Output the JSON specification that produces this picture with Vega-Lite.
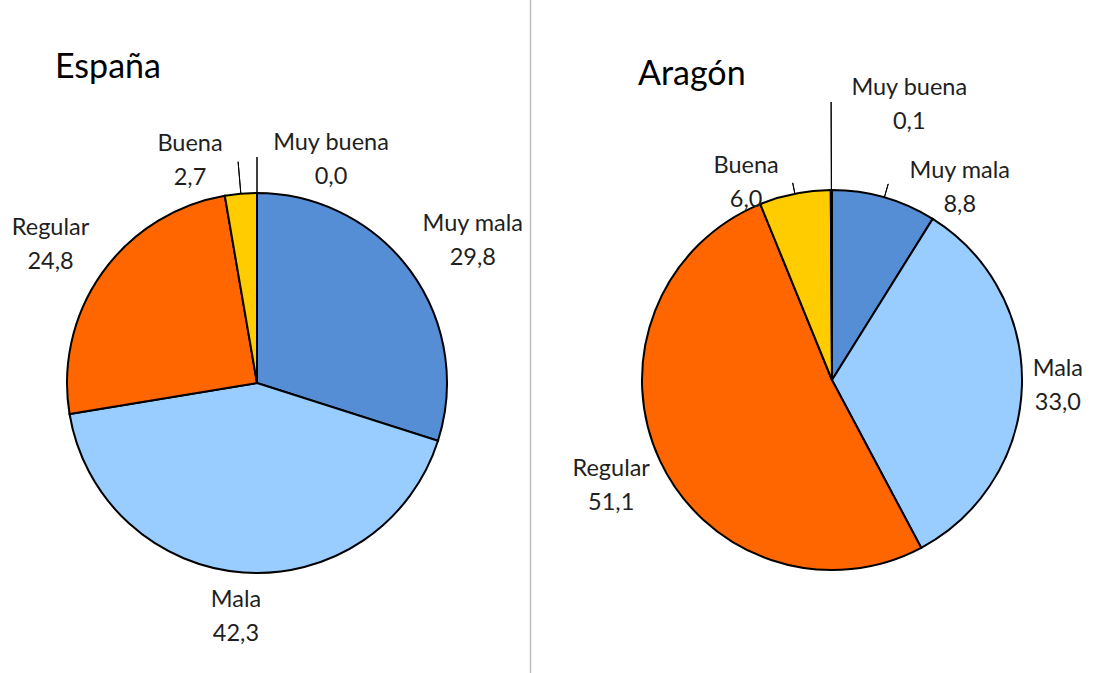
{
  "$schema": "https://vega.github.io/schema/vega-lite/v6.json",
  "width": 1093,
  "height": 673,
  "autosize": "none",
  "padding": 0,
  "background": "white",
  "config": {"view": {"stroke": null}, "text": {"font": "Lato"}},
  "data": {
    "values": [
      {"region": "España", "category": "Muy mala", "value": 29.8, "order": 1},
      {"region": "España", "category": "Mala", "value": 42.3, "order": 2},
      {"region": "España", "category": "Regular", "value": 24.8, "order": 3},
      {"region": "España", "category": "Buena", "value": 2.7, "order": 4},
      {"region": "España", "category": "Muy buena", "value": 0.0, "order": 5},
      {"region": "Aragón", "category": "Muy mala", "value": 8.8, "order": 1},
      {"region": "Aragón", "category": "Mala", "value": 33.0, "order": 2},
      {"region": "Aragón", "category": "Regular", "value": 51.1, "order": 3},
      {"region": "Aragón", "category": "Buena", "value": 6.0, "order": 4},
      {"region": "Aragón", "category": "Muy buena", "value": 0.1, "order": 5}
    ]
  },
  "transform": [
    {"joinaggregate": [{"op": "sum", "field": "value", "as": "total"}], "groupby": ["region"]},
    {"window": [{"op": "sum", "field": "value", "as": "cum"}], "groupby": ["region"], "sort": [{"field": "order", "order": "ascending"}]},
    {"calculate": "(datum.cum - datum.value) / datum.total", "as": "t0"},
    {"calculate": "datum.cum / datum.total", "as": "t1"},
    {"calculate": "(datum.cum - datum.value / 2) / datum.total", "as": "tm"},
    {"calculate": "datum.category + '\\n' + replace(format(datum.value, '.1f'), '.', ',')", "as": "label"},
    {"calculate": "datum.region + '|' + datum.category", "as": "key"},
    {"calculate": "'|'", "as": "sep"}
  ],
  "layer": [
    {
      "mark": {"type": "arc", "radius": 190, "stroke": "#000000", "strokeWidth": 2},
      "encoding": {
        "x": {"field": "region", "type": "nominal", "scale": {"type": "point", "padding": 0, "domain": ["España", "|", "Aragón"], "range": [257, 832]}, "axis": null},
        "y": {"field": "region", "type": "nominal", "scale": {"type": "point", "padding": 0, "domain": ["España", "Aragón"], "range": [383, 380]}, "axis": null},
        "theta": {"field": "t0", "type": "quantitative", "scale": {"domain": [0, 1], "range": [0, 6.283185307]}},
        "theta2": {"field": "t1"},
        "color": {"field": "category", "type": "nominal", "scale": {"domain": ["Muy mala", "Mala", "Regular", "Buena", "Muy buena"], "range": ["#558ED5", "#99CCFF", "#FF6600", "#FFCC00", "#92D050"]}, "legend": null}
      }
    },
    {
      "transform": [{"filter": "datum.key == 'España|Muy mala'"}],
      "mark": {"type": "rule", "color": "#BFBFBF", "strokeWidth": 1.5, "xOffset": -14},
      "encoding": {"x": {"field": "sep", "type": "nominal"}}
    },
    {"transform": [{"filter": "datum.key == 'España|Buena'"}], "mark": {"type": "arc", "radius": 222, "radius2": 190, "stroke": "#000000", "strokeWidth": 1, "fillOpacity": 0}, "encoding": {"x": {"field": "region", "type": "nominal"}, "y": {"field": "region", "type": "nominal"}, "theta": {"field": "tm", "type": "quantitative"}, "theta2": {"field": "tm"}}},
    {"transform": [{"filter": "datum.key == 'España|Muy buena'"}], "mark": {"type": "arc", "radius": 226, "radius2": 190, "stroke": "#000000", "strokeWidth": 1, "fillOpacity": 0}, "encoding": {"x": {"field": "region", "type": "nominal"}, "y": {"field": "region", "type": "nominal"}, "theta": {"field": "tm", "type": "quantitative"}, "theta2": {"field": "tm"}}},
    {"transform": [{"filter": "datum.key == 'Aragón|Buena'"}], "mark": {"type": "arc", "radius": 201, "radius2": 190, "stroke": "#000000", "strokeWidth": 1, "fillOpacity": 0}, "encoding": {"x": {"field": "region", "type": "nominal"}, "y": {"field": "region", "type": "nominal"}, "theta": {"field": "tm", "type": "quantitative"}, "theta2": {"field": "tm"}}},
    {"transform": [{"filter": "datum.key == 'Aragón|Muy mala'"}], "mark": {"type": "arc", "radius": 204, "radius2": 190, "stroke": "#000000", "strokeWidth": 1, "fillOpacity": 0}, "encoding": {"x": {"field": "region", "type": "nominal"}, "y": {"field": "region", "type": "nominal"}, "theta": {"field": "tm", "type": "quantitative"}, "theta2": {"field": "tm"}}},
    {"transform": [{"filter": "datum.key == 'Aragón|Muy buena'"}], "mark": {"type": "arc", "radius": 278, "radius2": 190, "stroke": "#000000", "strokeWidth": 1, "fillOpacity": 0}, "encoding": {"x": {"field": "region", "type": "nominal"}, "y": {"field": "region", "type": "nominal"}, "theta": {"field": "tm", "type": "quantitative"}, "theta2": {"field": "tm"}}},
    {"transform": [{"filter": "datum.key == 'España|Muy mala'"}], "mark": {"type": "text", "radius": 235, "dx": 26, "dy": -20, "fontSize": 23.5, "lineBreak": "\n", "lineHeight": 34, "baseline": "middle", "align": "center", "color": "#1f1f1f"}, "encoding": {"x": {"field": "region", "type": "nominal"}, "y": {"field": "region", "type": "nominal"}, "theta": {"field": "tm", "type": "quantitative"}, "text": {"field": "label"}}},
    {"transform": [{"filter": "datum.key == 'España|Mala'"}], "mark": {"type": "text", "radius": 235, "dx": -4, "dy": -17, "fontSize": 23.5, "lineBreak": "\n", "lineHeight": 34, "baseline": "middle", "align": "center", "color": "#1f1f1f"}, "encoding": {"x": {"field": "region", "type": "nominal"}, "y": {"field": "region", "type": "nominal"}, "theta": {"field": "tm", "type": "quantitative"}, "text": {"field": "label"}}},
    {"transform": [{"filter": "datum.key == 'España|Regular'"}], "mark": {"type": "text", "radius": 235, "dx": -15, "dy": -19, "fontSize": 23.5, "lineBreak": "\n", "lineHeight": 34, "baseline": "middle", "align": "center", "color": "#1f1f1f"}, "encoding": {"x": {"field": "region", "type": "nominal"}, "y": {"field": "region", "type": "nominal"}, "theta": {"field": "tm", "type": "quantitative"}, "text": {"field": "label"}}},
    {"transform": [{"filter": "datum.key == 'España|Buena'"}], "mark": {"type": "text", "radius": 235, "dx": -47, "dy": -5, "fontSize": 23.5, "lineBreak": "\n", "lineHeight": 34, "baseline": "middle", "align": "center", "color": "#1f1f1f"}, "encoding": {"x": {"field": "region", "type": "nominal"}, "y": {"field": "region", "type": "nominal"}, "theta": {"field": "tm", "type": "quantitative"}, "text": {"field": "label"}}},
    {"transform": [{"filter": "datum.key == 'España|Muy buena'"}], "mark": {"type": "text", "radius": 235, "dx": 74, "dy": -5, "fontSize": 23.5, "lineBreak": "\n", "lineHeight": 34, "baseline": "middle", "align": "center", "color": "#1f1f1f"}, "encoding": {"x": {"field": "region", "type": "nominal"}, "y": {"field": "region", "type": "nominal"}, "theta": {"field": "tm", "type": "quantitative"}, "text": {"field": "label"}}},
    {"transform": [{"filter": "datum.key == 'Aragón|Muy mala'"}], "mark": {"type": "text", "radius": 235, "dx": 63, "dy": 17, "fontSize": 23.5, "lineBreak": "\n", "lineHeight": 34, "baseline": "middle", "align": "center", "color": "#1f1f1f"}, "encoding": {"x": {"field": "region", "type": "nominal"}, "y": {"field": "region", "type": "nominal"}, "theta": {"field": "tm", "type": "quantitative"}, "text": {"field": "label"}}},
    {"transform": [{"filter": "datum.key == 'Aragón|Mala'"}], "mark": {"type": "text", "radius": 235, "dx": -9, "dy": -19, "fontSize": 23.5, "lineBreak": "\n", "lineHeight": 34, "baseline": "middle", "align": "center", "color": "#1f1f1f"}, "encoding": {"x": {"field": "region", "type": "nominal"}, "y": {"field": "region", "type": "nominal"}, "theta": {"field": "tm", "type": "quantitative"}, "text": {"field": "label"}}},
    {"transform": [{"filter": "datum.key == 'Aragón|Regular'"}], "mark": {"type": "text", "radius": 235, "dx": -8, "dy": -11, "fontSize": 23.5, "lineBreak": "\n", "lineHeight": 34, "baseline": "middle", "align": "center", "color": "#1f1f1f"}, "encoding": {"x": {"field": "region", "type": "nominal"}, "y": {"field": "region", "type": "nominal"}, "theta": {"field": "tm", "type": "quantitative"}, "text": {"field": "label"}}},
    {"transform": [{"filter": "datum.key == 'Aragón|Buena'"}], "mark": {"type": "text", "radius": 235, "dx": -40, "dy": 16, "fontSize": 23.5, "lineBreak": "\n", "lineHeight": 34, "baseline": "middle", "align": "center", "color": "#1f1f1f"}, "encoding": {"x": {"field": "region", "type": "nominal"}, "y": {"field": "region", "type": "nominal"}, "theta": {"field": "tm", "type": "quantitative"}, "text": {"field": "label"}}},
    {"transform": [{"filter": "datum.key == 'Aragón|Muy buena'"}], "mark": {"type": "text", "radius": 235, "dx": 78, "dy": -57, "fontSize": 23.5, "lineBreak": "\n", "lineHeight": 34, "baseline": "middle", "align": "center", "color": "#1f1f1f"}, "encoding": {"x": {"field": "region", "type": "nominal"}, "y": {"field": "region", "type": "nominal"}, "theta": {"field": "tm", "type": "quantitative"}, "text": {"field": "label"}}},
    {"transform": [{"filter": "datum.key == 'España|Muy mala'"}], "mark": {"type": "text", "dx": -202, "dy": -305, "fontSize": 34, "baseline": "alphabetic", "align": "left", "color": "#000000"}, "encoding": {"x": {"field": "region", "type": "nominal"}, "y": {"field": "region", "type": "nominal"}, "text": {"field": "region"}}},
    {"transform": [{"filter": "datum.key == 'Aragón|Muy mala'"}], "mark": {"type": "text", "dx": -194, "dy": -295, "fontSize": 34, "baseline": "alphabetic", "align": "left", "color": "#000000"}, "encoding": {"x": {"field": "region", "type": "nominal"}, "y": {"field": "region", "type": "nominal"}, "text": {"field": "region"}}}
  ]
}
